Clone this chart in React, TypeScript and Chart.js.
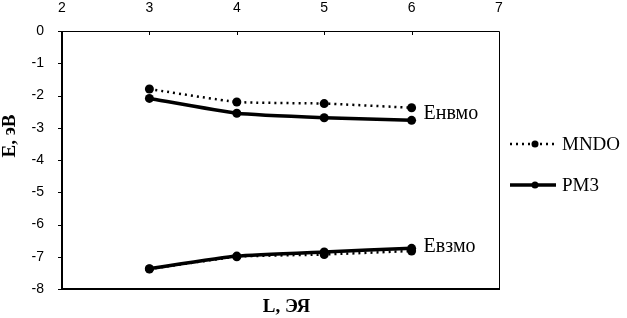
import React, { useEffect, useRef } from "react";
import { Chart, registerables } from "chart.js";

Chart.register(...registerables);

const xValues = [3, 4, 5, 6];
const mndoLumo = [-1.8, -2.2, -2.25, -2.38];
const pm3Lumo = [-2.09, -2.55, -2.69, -2.77];
const mndoHomo = [-7.38, -7.0, -6.93, -6.82];
const pm3Homo = [-7.37, -6.98, -6.85, -6.74];
const seriesNames = ["MNDO", "PM3"];
const curveLabels = ["Eнвмо", "Eвзмо"];
const xTitle = "L, ЭЯ";
const yTitle = "E, эВ";
const xMin = 2, xMax = 7, yMin = -8, yMax = 0;

const toPts = (ys: number[]) => xValues.map((x, i) => ({ x, y: ys[i] }));

const mndoStyle = {
  borderColor: "#000",
  borderWidth: 2.5,
  borderDash: [2, 4],
  pointRadius: 4.5,
  pointBackgroundColor: "#000",
  pointBorderWidth: 0,
  tension: 0.15,
};
const pm3Style = {
  borderColor: "#000",
  borderWidth: 3.5,
  borderDash: [],
  pointRadius: 4.5,
  pointBackgroundColor: "#000",
  pointBorderWidth: 0,
  tension: 0.15,
};

const framePlugin = {
  id: "frame",
  afterDraw(chart: any) {
    const ctx = chart.ctx;
    const { left, right, top, bottom } = chart.chartArea;
    const xs = chart.scales.x;
    const ys = chart.scales.y;
    ctx.save();
    ctx.strokeStyle = "#000";
    ctx.setLineDash([]);
    ctx.lineWidth = 1;
    ctx.beginPath();
    ctx.moveTo(left, top + 0.5);
    ctx.lineTo(right + 0.5, top + 0.5);
    ctx.lineTo(right + 0.5, bottom);
    ctx.stroke();
    ctx.lineWidth = 2;
    ctx.beginPath();
    ctx.moveTo(left, top);
    ctx.lineTo(left, bottom);
    ctx.lineTo(right + 1, bottom);
    ctx.stroke();
    ctx.lineWidth = 1;
    for (let v = yMin; v <= yMax; v++) {
      const py = Math.round(ys.getPixelForValue(v)) + 0.5;
      ctx.beginPath();
      ctx.moveTo(left - 4, py);
      ctx.lineTo(left, py);
      ctx.stroke();
    }
    for (let v = xMin + 1; v < xMax; v++) {
      const px = Math.round(xs.getPixelForValue(v)) + 0.5;
      ctx.beginPath();
      ctx.moveTo(px, top);
      ctx.lineTo(px, top + 4);
      ctx.stroke();
    }
    ctx.fillStyle = "#000";
    ctx.font = "20px 'Liberation Serif', serif";
    ctx.textAlign = "left";
    ctx.textBaseline = "middle";
    const lastX = xs.getPixelForValue(xValues[xValues.length - 1]) + 12;
    const n = xValues.length - 1;
    const y1 = ys.getPixelForValue((mndoLumo[n] + pm3Lumo[n]) / 2);
    const y2 = ys.getPixelForValue((mndoHomo[n] + pm3Homo[n]) / 2);
    ctx.fillText(curveLabels[0], lastX, y1);
    ctx.fillText(curveLabels[1], lastX, y2 - 3);
    ctx.font = "bold 19px 'Liberation Serif', serif";
    ctx.textAlign = "center";
    ctx.fillText(xTitle, (left + right) / 2 + 6, bottom + 18);
    ctx.save();
    ctx.translate(10, (top + bottom) / 2 - 24);
    ctx.rotate(-Math.PI / 2);
    ctx.fillText(yTitle, 0, 0);
    ctx.restore();
    const styles = [mndoStyle, pm3Style];
    const rows = [144, 185];
    const lx0 = right + 11, lx1 = right + 57, dotX = right + 36;
    styles.forEach((st, i) => {
      ctx.strokeStyle = "#000";
      ctx.lineWidth = st.borderWidth;
      ctx.setLineDash(st.borderDash);
      ctx.beginPath();
      ctx.moveTo(lx0, rows[i]);
      ctx.lineTo(lx1, rows[i]);
      ctx.stroke();
      ctx.setLineDash([]);
      ctx.beginPath();
      ctx.arc(dotX, rows[i], 3.5, 0, Math.PI * 2);
      ctx.fill();
      ctx.font = "19px 'Liberation Serif', serif";
      ctx.textAlign = "left";
      ctx.textBaseline = "middle";
      ctx.fillText(seriesNames[i], lx1 + 6, rows[i] + 1);
    });
    ctx.restore();
  },
};

export default function App() {
  const ref = useRef<HTMLCanvasElement>(null);
  useEffect(() => {
    if (!ref.current) return;
    const chart = new Chart(ref.current, {
      type: "line",
      data: {
        datasets: [
          { label: seriesNames[0], data: toPts(mndoLumo), ...mndoStyle, order: 2 },
          { label: seriesNames[1], data: toPts(pm3Lumo), ...pm3Style, order: 1 },
          { label: seriesNames[0], data: toPts(mndoHomo), ...mndoStyle, order: 2 },
          { label: seriesNames[1], data: toPts(pm3Homo), ...pm3Style, order: 1 },
        ] as any,
      },
      options: {
        animation: false,
        responsive: true,
        maintainAspectRatio: false,
        layout: { padding: { left: 0, right: 128, top: 0, bottom: 29 } },
        plugins: { legend: { display: false }, tooltip: { enabled: false } },
        scales: {
          x: {
            type: "linear",
            position: "top",
            min: xMin,
            max: xMax,
            ticks: { stepSize: 1, color: "#000", font: { family: "'Liberation Sans'", size: 14 }, padding: 14 },
            grid: { display: false, drawTicks: false },
            border: { display: false },
            afterFit: (s: any) => { s.height = 31; },
          },
          y: {
            type: "linear",
            min: yMin,
            max: yMax,
            ticks: { stepSize: 1, color: "#000", font: { family: "'Liberation Sans'", size: 14 }, padding: 18 },
            grid: { display: false, drawTicks: false },
            border: { display: false },
            afterFit: (s: any) => { s.width = 62; },
          },
        },
      },
      plugins: [framePlugin],
    });
    return () => chart.destroy();
  }, []);
  return (
    <div style={{ position: "absolute", left: 0, top: 0, width: 627, height: 318, background: "#fff" }}>
      <canvas ref={ref} />
    </div>
  );
}
